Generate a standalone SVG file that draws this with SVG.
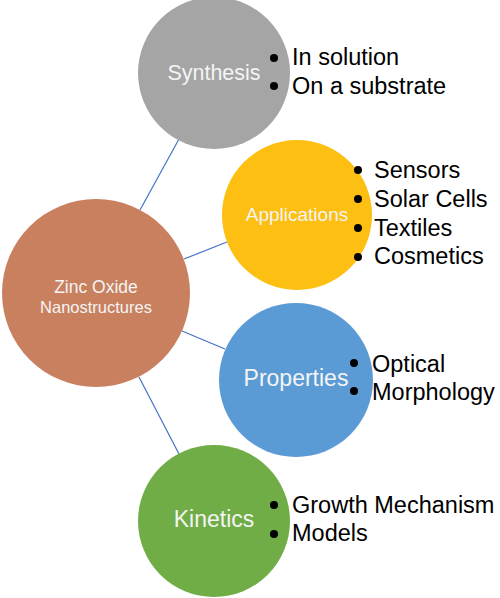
<svg xmlns="http://www.w3.org/2000/svg" width="500" height="598" viewBox="0 0 500 598">
<style>
.inner{font-family:"Liberation Sans",Arial,sans-serif;fill:#f4f4f4;text-anchor:middle}
.item{font-family:"Liberation Sans",Arial,sans-serif;font-size:23.5px;fill:#000}
.conn{stroke:#4472c4;stroke-width:1.2;fill:none}
.dot{fill:#000}
</style>
<rect width="500" height="598" fill="#fff"/>
<g id="connectors">
<line class="conn" x1="140" y1="210" x2="179" y2="139"/>
<line class="conn" x1="184" y1="259" x2="227" y2="242"/>
<line class="conn" x1="182" y1="331" x2="225" y2="349"/>
<line class="conn" x1="139" y1="377" x2="179" y2="454"/>
</g>
<g id="zinc">
<circle cx="96" cy="293" r="94" fill="#c9805f"/>
<text class="inner" x="96" y="293" font-size="17.5">Zinc Oxide</text>
<text class="inner" x="96" y="313" font-size="16.5">Nanostructures</text>
</g>
<g id="synthesis">
<circle cx="214" cy="73" r="76" fill="#a5a5a5"/>
<text class="inner" x="214" y="80" font-size="21.5">Synthesis</text>
<circle class="dot" cx="274" cy="58" r="4"/>
<circle class="dot" cx="274" cy="86" r="4"/>
<text class="item" x="292" y="65">In solution</text>
<text class="item" x="292" y="94">On a substrate</text>
</g>
<g id="applications">
<circle cx="297" cy="215" r="75" fill="#fdbf12"/>
<text class="inner" x="297" y="221" font-size="19">Applications</text>
<circle class="dot" cx="358" cy="170" r="4"/>
<circle class="dot" cx="358" cy="199" r="4"/>
<circle class="dot" cx="358" cy="228" r="4"/>
<circle class="dot" cx="358" cy="257" r="4"/>
<text class="item" x="374" y="178">Sensors</text>
<text class="item" x="374" y="207">Solar Cells</text>
<text class="item" x="374" y="236">Textiles</text>
<text class="item" x="374" y="264">Cosmetics</text>
</g>
<g id="properties">
<circle cx="296" cy="380" r="77" fill="#5b9bd5"/>
<text class="inner" x="296" y="386" font-size="23">Properties</text>
<circle class="dot" cx="354" cy="363" r="4"/>
<circle class="dot" cx="354" cy="391" r="4"/>
<text class="item" x="372" y="372">Optical</text>
<text class="item" x="372" y="400">Morphology</text>
</g>
<g id="kinetics">
<circle cx="214" cy="521" r="76" fill="#70ad47"/>
<text class="inner" x="214" y="527" font-size="23">Kinetics</text>
<circle class="dot" cx="274" cy="505" r="4"/>
<circle class="dot" cx="274" cy="534" r="4"/>
<text class="item" x="292" y="513">Growth Mechanism</text>
<text class="item" x="292" y="541">Models</text>
</g>
</svg>
